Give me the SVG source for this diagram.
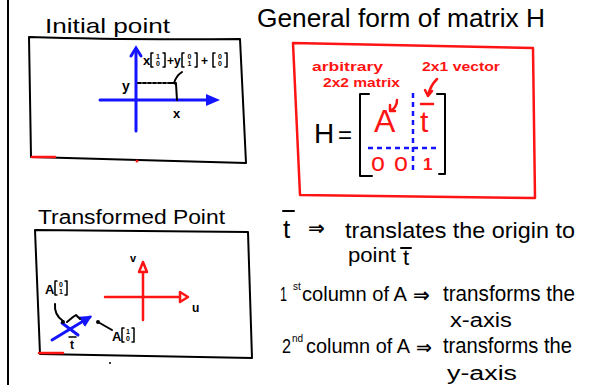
<svg xmlns="http://www.w3.org/2000/svg" width="592" height="385" viewBox="0 0 592 385">
<defs>
<style>
.ink{stroke:#000;stroke-width:2;fill:none;stroke-linecap:round;stroke-linejoin:round}
.thin{stroke-width:1.5}
.blue{stroke:#1414ff;stroke-width:3;fill:none;stroke-linecap:round}
.redl{stroke:#ff1414;stroke-width:2.5;fill:none;stroke-linecap:round;stroke-linejoin:round}
.bd{stroke:#1414ff;stroke-width:2.5;stroke-dasharray:5 4;fill:none}
.t{font-family:"Liberation Sans",Arial,sans-serif;fill:#000}
.b{font-weight:bold}
.r{fill:#ff1414}
.m{text-anchor:middle}
.arr{font-family:"DejaVu Sans",sans-serif;font-weight:bold;fill:#000}
</style>
<marker id="bluehead" viewBox="0 0 10 10" refX="8" refY="5" markerWidth="4" markerHeight="4" orient="auto"><path d="M0 0L10 5L0 10z" fill="#1414ff"/></marker>
</defs>
<rect width="592" height="385" fill="#fff"/>
<line x1="8" y1="0" x2="8" y2="385" class="ink" stroke-width="2.5"/>

<g id="initial-point">
<text class="t" x="45" y="33" font-size="21" textLength="125" lengthAdjust="spacingAndGlyphs">Initial point</text>
<path class="ink" d="M29 37 Q120 40 240 39 L246 163 L240 163 M246 163 L31 157 L29 37"/>
<line x1="32" y1="157" x2="55" y2="157" class="redl"/>
<circle cx="137" cy="161" r="1.5" fill="#ff1414"/>
<text class="t b" x="143" y="65" font-size="13">x</text>
<path class="ink thin" d="M153 53H151V67H153M163 53H165V67H163"/>
<text class="t b m" x="158" y="59" font-size="7">1</text><text class="t b m" x="158" y="66" font-size="7">0</text>
<text class="t b" x="167" y="65" font-size="12">+y</text>
<path class="ink thin" d="M184 53H182V67H184M195 53H197V67H195"/>
<text class="t b m" x="189.5" y="59" font-size="7">0</text><text class="t b m" x="189.5" y="66" font-size="7">1</text>
<text class="t b" x="201" y="65" font-size="12">+</text>
<path class="ink thin" d="M215 53H213V67H215M225 53H227V67H225"/>
<text class="t b m" x="220" y="59" font-size="7">0</text><text class="t b m" x="220" y="66" font-size="7">0</text>
<text class="t b" x="122" y="91" font-size="14">y</text>
<text class="t b" x="173" y="118" font-size="13">x</text>
</g>

<g id="general-form">
<text class="t" x="257" y="27" font-size="26" textLength="288" lengthAdjust="spacingAndGlyphs">General form of matrix H</text>
<path class="redl" d="M293 43 L533 48 L535 198 L300 195 Z"/>
<text class="t b r" x="312" y="71" font-size="13" textLength="71" lengthAdjust="spacingAndGlyphs">arbitrary</text>
<text class="t b r" x="323" y="87" font-size="13" textLength="77" lengthAdjust="spacingAndGlyphs">2x2 matrix</text>
<text class="t b r" x="422" y="71" font-size="13" textLength="78" lengthAdjust="spacingAndGlyphs">2x1 vector</text>
<text class="t" x="314" y="143" font-size="28">H</text>
<text class="t" x="338" y="143" font-size="24">=</text>
<path class="ink" d="M369 94H360V176H372 M437 94H445V174H439"/>
<text class="t r" x="374" y="132" font-size="32">A</text>
<text class="t r" x="420" y="132" font-size="30">t</text>
<line x1="421" y1="104" x2="433" y2="104" class="redl"/>
<line class="bd" x1="413" y1="93" x2="413" y2="170"/>
<line class="bd" x1="368" y1="148" x2="440" y2="148"/>
<text class="t r" x="371" y="171" font-size="25">o</text>
<text class="t r" x="394" y="171" font-size="25">o</text>
<text class="t b r" x="423" y="170" font-size="17">1</text>
</g>

<g id="transformed-point">
<text class="t" x="38" y="224" font-size="20" textLength="187" lengthAdjust="spacingAndGlyphs">Transformed Point</text>
<path class="ink" d="M35 230 L248 232 L252 358 L40 354 Z"/>
<line x1="39" y1="353" x2="63" y2="353" class="redl"/>
<text class="t b" x="130" y="262" font-size="11">v</text>
<text class="t b" x="192" y="312" font-size="12">u</text>
<text class="t b" x="45" y="294" font-size="13">A</text>
<path class="ink thin" d="M57 281H55V295H57M65 281H67V295H65"/>
<text class="t b m" x="61" y="287" font-size="7">0</text><text class="t b m" x="61" y="294" font-size="7">1</text>
<text class="t b" x="112" y="341" font-size="13">A</text>
<path class="ink thin" d="M124 328H122V342H124M132 328H134V342H132"/>
<text class="t b m" x="128" y="334" font-size="7">1</text><text class="t b m" x="128" y="341" font-size="7">0</text>
<text class="t b" x="70" y="349" font-size="12">t</text>
<line x1="69" y1="337" x2="76" y2="337" class="ink thin"/>
<circle cx="110" cy="363" r="1" fill="#000"/>
</g>

<g id="notes">
<text class="t" x="283" y="238" font-size="26">t</text>
<line x1="283" y1="211" x2="294" y2="211" class="ink"/>
<text class="arr" x="308" y="235" font-size="20">⇒</text>
<text class="t" x="345" y="238" font-size="22" textLength="230" lengthAdjust="spacingAndGlyphs">translates the origin to</text>
<text class="t" x="348" y="262" font-size="21" textLength="48" lengthAdjust="spacingAndGlyphs">point</text>
<text class="t" x="403" y="265" font-size="22">t</text>
<line x1="401" y1="248" x2="411" y2="248" class="ink"/>
<text class="t" x="280" y="301" font-size="21" textLength="7" lengthAdjust="spacingAndGlyphs">1</text>
<text class="t" x="293" y="290" font-size="10">st</text>
<text class="t" x="302" y="301" font-size="21" textLength="105" lengthAdjust="spacingAndGlyphs">column of A</text>
<text class="arr" x="413" y="302" font-size="20">⇒</text>
<text class="t" x="443" y="301" font-size="22" textLength="132" lengthAdjust="spacingAndGlyphs">transforms the</text>
<text class="t" x="450" y="327" font-size="20" textLength="62" lengthAdjust="spacingAndGlyphs">x-axis</text>
<text class="t" x="282" y="353" font-size="20" textLength="9" lengthAdjust="spacingAndGlyphs">2</text>
<text class="t" x="292" y="342" font-size="10">nd</text>
<text class="t" x="306" y="353" font-size="21" textLength="104" lengthAdjust="spacingAndGlyphs">column of A</text>
<text class="arr" x="416" y="354" font-size="19">⇒</text>
<text class="t" x="443" y="353" font-size="22" textLength="129" lengthAdjust="spacingAndGlyphs">transforms the</text>
<text class="t" x="447" y="380" font-size="20" textLength="70" lengthAdjust="spacingAndGlyphs">y-axis</text>
</g>

<g id="connectors">
<line class="blue" x1="136" y1="131" x2="136" y2="49"/>
<path class="blue" d="M131 56L136 48L141 56"/>
<line class="blue" x1="100" y1="100" x2="208" y2="100"/>
<path d="M206 94L220 100L206 106Z" fill="#1414ff"/>
<line class="ink" x1="138" y1="83" x2="172" y2="83" stroke-dasharray="3 2" stroke-width="1.5"/>
<path class="ink" d="M182 72 Q176 76 174 83 L176 84 L177 100 M170 83 H176"/>
<line class="redl" x1="143" y1="320" x2="143" y2="272"/>
<path class="redl" d="M143 262L139 272L147 272Z" fill="#fff"/>
<line class="redl" x1="105" y1="297" x2="180" y2="297"/>
<path class="redl" d="M188 297L180 292L180 302Z" fill="#fff"/>
<line class="blue" x1="52" y1="340" x2="90" y2="317" marker-end="url(#bluehead)"/>
<line class="blue" x1="62" y1="323" x2="78" y2="335" stroke-width="2.5"/>
<path class="ink" d="M55 304 Q54 315 63 321"/>
<circle cx="63" cy="322" r="2" fill="#000"/>
<path class="ink" d="M67 322 L73 317 L76 315 L80 319"/>
<path class="ink" d="M98 322 L112 330"/>
<circle cx="98" cy="322" r="2" fill="#000"/>
<path class="redl" d="M397 100 Q397 108 390 111 M390 105 L390 111 L395 111"/>
<path class="redl" d="M437 79 Q430 86 428 96 M425 90 L428 96 L432 91"/>
</g>
</svg>
